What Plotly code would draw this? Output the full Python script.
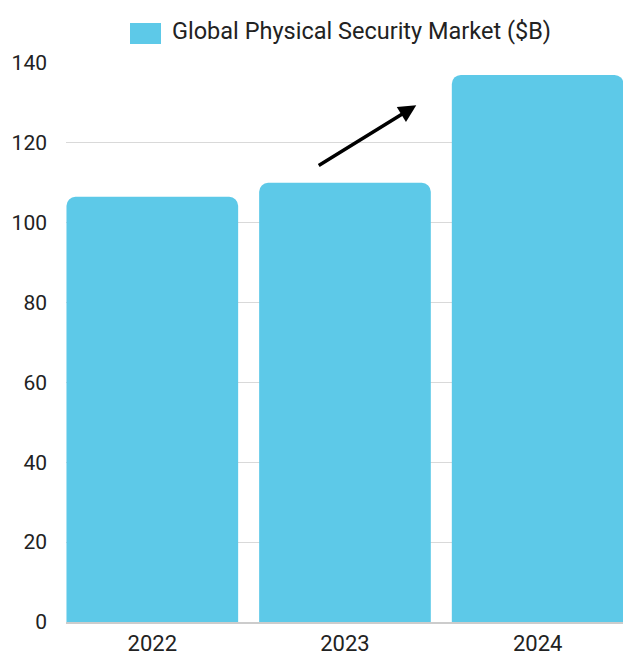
import plotly.graph_objects as go

categories = ["2022", "2023", "2024"]
values = [106.5, 110, 137]
series_name = "Global Physical Security Market ($B)"
y_ticks = [0, 20, 40, 60, 80, 100, 120, 140]

BAR_COLOR = "#5DC9E8"
TEXT_COLOR = "#222222"
FONT = "Roboto"

fig = go.Figure()
fig.add_trace(go.Bar(
    x=categories, y=values, name=series_name,
    marker=dict(color=BAR_COLOR, line=dict(width=0)),
    width=0.891, showlegend=False,
))

W, H = 623, 656
PLOT_L, PLOT_T, PLOT_B = 66, 63, 622
L, R, T, B = PLOT_L, 0, PLOT_T, H - PLOT_B
pw, ph = W - L - R, H - T - B


def px_x(p):
    return (p - PLOT_L) / pw


def px_y(p):
    return (PLOT_B - p) / ph


fig.update_layout(
    width=W, height=H,
    margin=dict(l=L, r=R, t=T, b=B, autoexpand=False),
    paper_bgcolor="white", plot_bgcolor="white",
    font=dict(family=FONT, size=20, color=TEXT_COLOR),
    barcornerradius=9,
    xaxis=dict(type="category", range=[-0.448, 2.443], showgrid=False,
               showline=True, linecolor="#cccccc", linewidth=1.5,
               ticks="", ticklabelstandoff=1,
               tickfont=dict(family=FONT, size=22, color=TEXT_COLOR)),
    yaxis=dict(range=[0, 140], tickvals=y_ticks, showgrid=True,
               gridcolor="#d9d9d9", gridwidth=1, zeroline=False,
               showline=False, ticks="", ticklabelstandoff=18,
               tickfont=dict(family=FONT, size=21, color=TEXT_COLOR)),
    shapes=[dict(type="rect", xref="paper", yref="paper",
                 x0=px_x(130), x1=px_x(161), y0=px_y(44), y1=px_y(23),
                 fillcolor=BAR_COLOR, line=dict(width=0))],
    annotations=[
        dict(text=series_name, xref="paper", yref="paper",
             x=px_x(170), y=px_y(31), xanchor="left", yanchor="middle",
             showarrow=False, font=dict(family=FONT, size=23.5, color=TEXT_COLOR)),
        dict(x=1.37, y=129.4, ax=0.856, ay=114.1, xref="x", yref="y",
             axref="x", ayref="y", text="", showarrow=True,
             arrowhead=2, arrowsize=1, arrowwidth=3.5, arrowcolor="black",
             standoff=0),
    ],
)

fig.write_html(
    "out.html",
    config={"displayModeBar": False},
    post_script="document.body.style.margin='0';document.body.style.overflow='hidden';",
)
